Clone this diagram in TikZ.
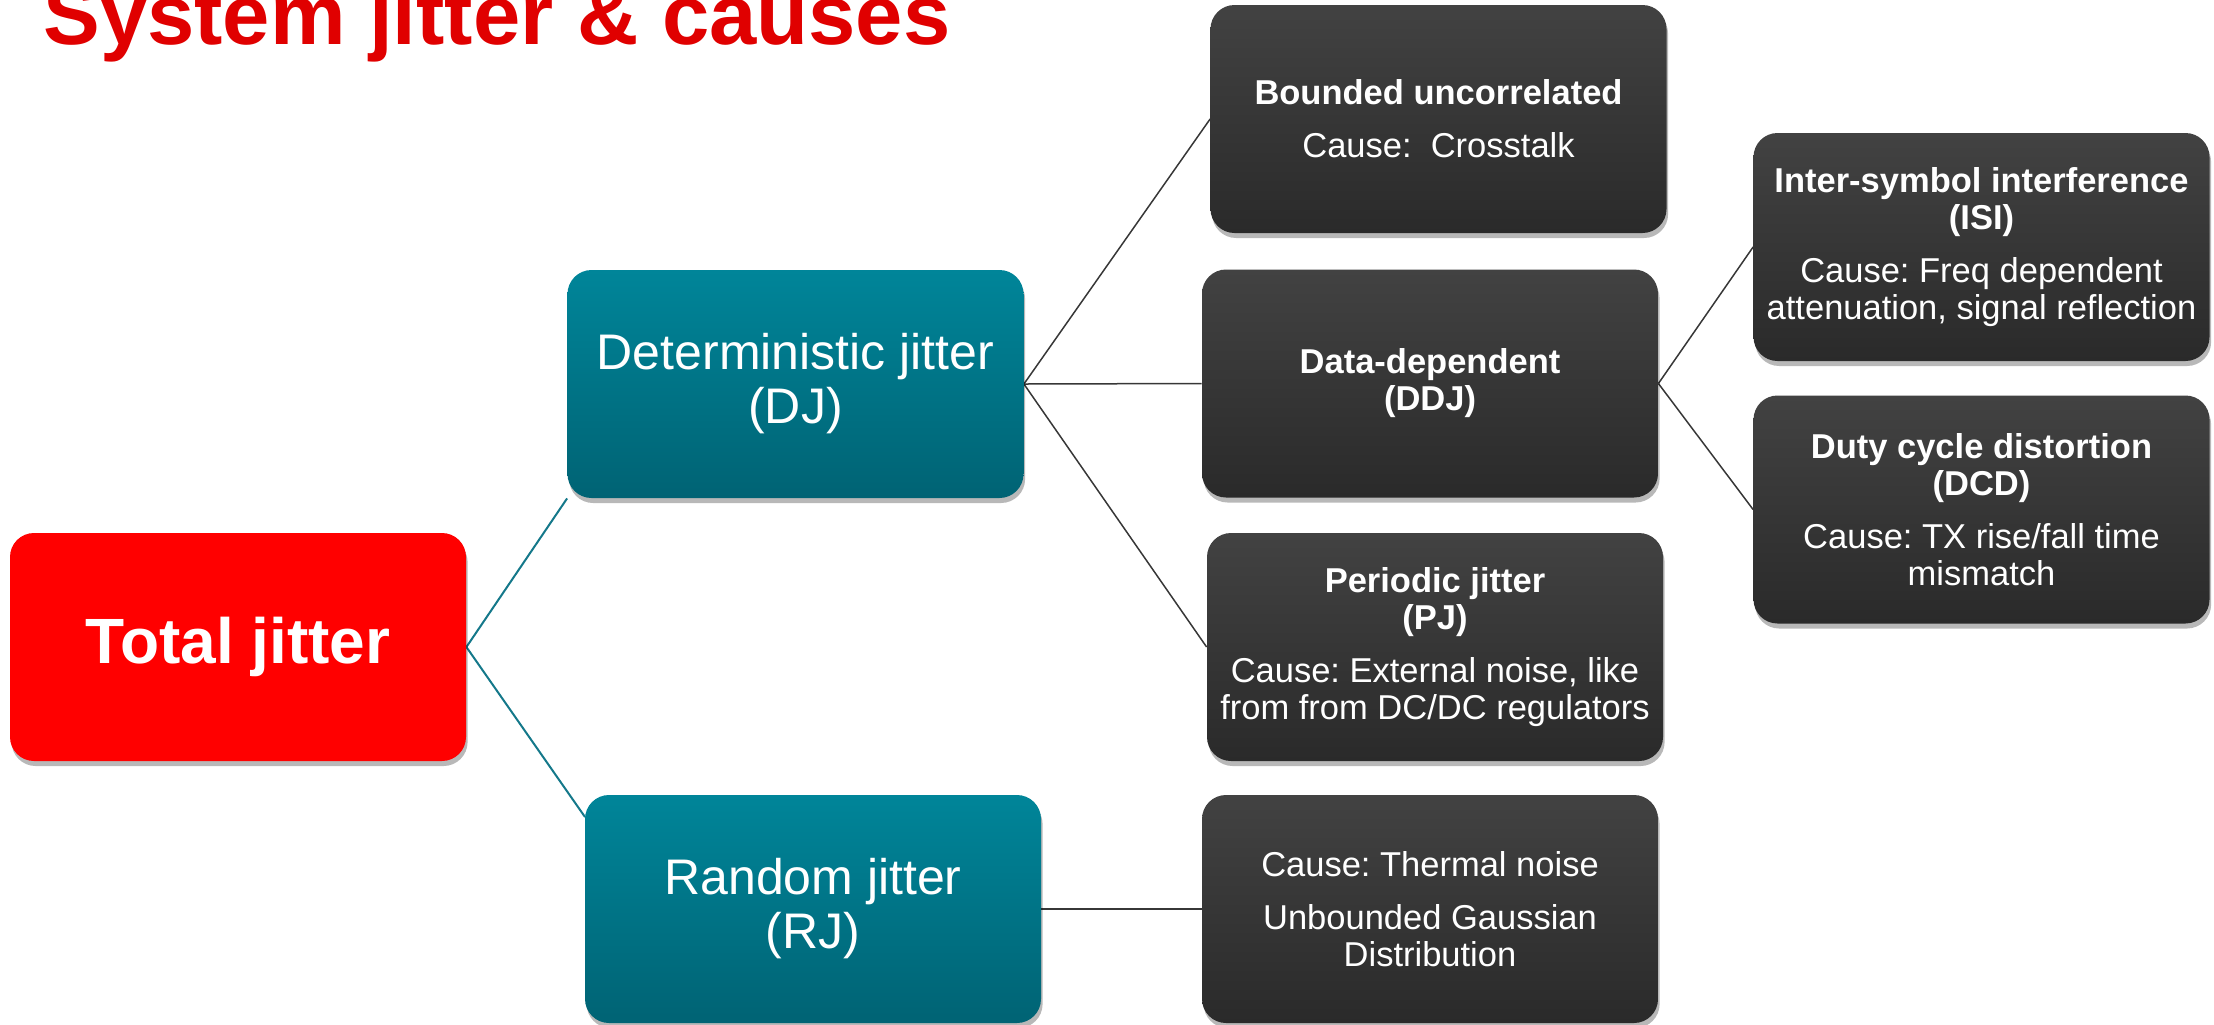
\documentclass[tikz,border=0pt]{standalone}
\usepackage{fontspec}
\setmainfont{Liberation Sans}
\frenchspacing
\usetikzlibrary{shadows,backgrounds}
\definecolor{titlered}{RGB}{224,0,0}
\definecolor{boxred}{RGB}{255,0,0}
\definecolor{tealtop}{RGB}{0,133,153}
\definecolor{tealbot}{RGB}{0,99,116}
\definecolor{darktop}{RGB}{66,66,66}
\definecolor{darkbot}{RGB}{42,42,42}
\definecolor{tealline}{RGB}{20,120,138}
\definecolor{grayline}{RGB}{55,55,55}
\begin{document}
\begin{tikzpicture}[x=0.5pt,y=-0.5pt,
  boxbase/.style={rounded corners=12pt, minimum width=228pt, minimum height=114pt,
    inner sep=4pt, align=center, text=white,
    drop shadow={shadow xshift=0.8pt, shadow yshift=-2.5pt, opacity=0.28, fill=black}},
  totalbox/.style={boxbase, fill=boxred, font=\fontsize{32}{36}\selectfont\bfseries},
  tealbox/.style={boxbase, top color=tealtop, bottom color=tealbot, font=\fontsize{25}{27}\selectfont},
  darkbox/.style={boxbase, top color=darktop, bottom color=darkbot, font=\fontsize{17.25}{18.5}\selectfont},
  tealcon/.style={draw=tealline, line width=1pt},
  graycon/.style={draw=grayline, line width=0.75pt}]
\useasboundingbox (0,0) rectangle (2214,1024);
\clip (0,0) rectangle (2214,1024);

\node[anchor=base west, text=titlered, inner sep=0pt,
      font=\fontsize{42.5}{48}\selectfont\bfseries] (title) at (43,44) {System jitter \& causes};

\node[totalbox] (total) at (238,647) {Total jitter};
\node[tealbox] (dj) at (795.5,384) {Deterministic jitter\\(DJ)};
\node[tealbox] (rj) at (813,909) {Random jitter\\(RJ)};

\node[darkbox] (bu) at (1438.5,119) {\textbf{Bounded uncorrelated}\\[8pt]Cause:\ \ Crosstalk};
\node[darkbox] (ddj) at (1430,383.5) {\textbf{Data-dependent}\\\textbf{(DDJ)}};
\node[darkbox] (pj) at (1435,647) {\textbf{Periodic jitter}\\\textbf{(PJ)}\\[8pt]Cause: External noise, like\\from from DC/DC regulators};
\node[darkbox] (rjc) at (1430,909) {Cause: Thermal noise\\[8pt]Unbounded Gaussian\\Distribution};
\node[darkbox] (isi) at (1981.5,247) {\textbf{Inter-symbol interference}\\\textbf{(ISI)}\\[8pt]Cause: Freq dependent\\attenuation, signal reflection};
\node[darkbox] (dcd) at (1981.5,509.5) {\textbf{Duty cycle distortion}\\\textbf{(DCD)}\\[8pt]Cause: TX rise/fall time\\mismatch};

\coordinate (rjin) at (585,817);

\begin{scope}[on background layer]
\draw[tealcon] (total.east) -- (dj.south west);
\draw[tealcon] (total.east) -- (rjin);
\draw[graycon] (dj.east) -- (bu.west);
\draw[graycon] (dj.east) -- (ddj.west);
\draw[graycon] (dj.east) -- (pj.west);
\draw[graycon] (rj.east) -- (rjc.west);
\draw[graycon] (ddj.east) -- (isi.west);
\draw[graycon] (ddj.east) -- (dcd.west);
\end{scope}
\end{tikzpicture}
\end{document}
